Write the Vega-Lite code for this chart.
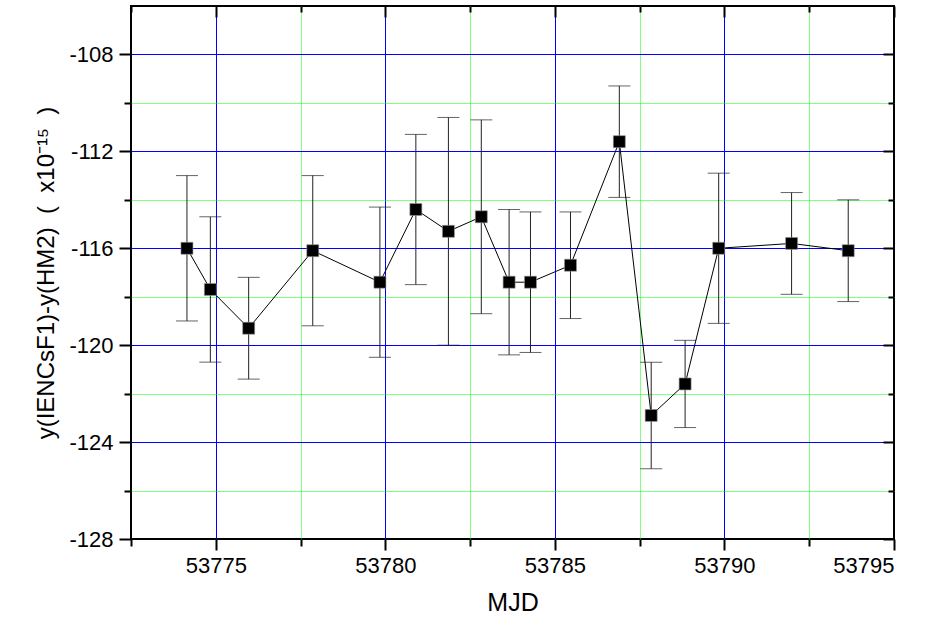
{
  "$schema": "https://vega.github.io/schema/vega-lite/v6.json",
  "width": 763,
  "height": 533,
  "autosize": {"type": "none"},
  "padding": {"left": 131, "top": 6, "right": 33, "bottom": 86},
  "background": "white",
  "config": {
    "font": "Liberation Sans",
    "view": {"stroke": "black", "strokeWidth": 2}
  },
  "data": {
    "values": [
      {"mjd": 53774.15, "y": -116.0, "lo": -119.0, "hi": -113.0},
      {"mjd": 53774.84, "y": -117.7, "lo": -120.7, "hi": -114.7},
      {"mjd": 53775.97, "y": -119.3, "lo": -121.4, "hi": -117.2},
      {"mjd": 53777.86, "y": -116.1, "lo": -119.2, "hi": -113.0},
      {"mjd": 53779.84, "y": -117.4, "lo": -120.5, "hi": -114.3},
      {"mjd": 53780.9, "y": -114.4, "lo": -117.5, "hi": -111.3},
      {"mjd": 53781.86, "y": -115.3, "lo": -120.0, "hi": -110.6},
      {"mjd": 53782.83, "y": -114.7, "lo": -118.7, "hi": -110.7},
      {"mjd": 53783.65, "y": -117.4, "lo": -120.4, "hi": -114.4},
      {"mjd": 53784.28, "y": -117.4, "lo": -120.3, "hi": -114.5},
      {"mjd": 53785.46, "y": -116.7, "lo": -118.9, "hi": -114.5},
      {"mjd": 53786.9, "y": -111.6, "lo": -113.9, "hi": -109.3},
      {"mjd": 53787.84, "y": -122.9, "lo": -125.1, "hi": -120.7},
      {"mjd": 53788.84, "y": -121.6, "lo": -123.4, "hi": -119.8},
      {"mjd": 53789.83, "y": -116.0, "lo": -119.1, "hi": -112.9},
      {"mjd": 53791.98, "y": -115.8, "lo": -117.9, "hi": -113.7},
      {"mjd": 53793.65, "y": -116.1, "lo": -118.2, "hi": -114.0}
    ]
  },
  "resolve": {"axis": {"x": "independent", "y": "independent"}},
  "layer": [
    {
      "mark": {"type": "rule", "color": "#222222", "strokeWidth": 1},
      "encoding": {
        "x": {
          "field": "mjd", "type": "quantitative",
          "scale": {"domain": [53772.5, 53795], "nice": false, "zero": false},
          "axis": {
            "title": "MJD",
            "titleFontSize": 25, "titleFontWeight": "normal", "titleColor": "black", "titlePadding": 14,
            "values": [53772.5, 53775, 53777.5, 53780, 53782.5, 53785, 53787.5, 53790, 53792.5, 53795],
            "format": "d",
            "labelExpr": "datum.value % 5 === 0 ? datum.label : ''",
            "labelFontSize": 22, "labelColor": "black", "labelPadding": 5,
            "domain": false,
            "tickColor": "black", "tickWidth": 2,
            "tickSize": {"condition": {"test": "datum.value % 5 === 0", "value": 11}, "value": 7},
            "grid": true,
            "gridColor": {"condition": {"test": "datum.value % 5 === 0", "value": "#0000ff"}, "value": "#00ff00"},
            "gridDash": {"condition": {"test": "datum.value % 5 === 0", "value": []}, "value": [1, 1]},
            "gridOpacity": {"condition": {"test": "datum.value === 53772.5 || datum.value === 53795", "value": 0}, "value": 1},
            "gridWidth": 1
          }
        },
        "y": {
          "field": "lo", "type": "quantitative",
          "scale": {"domain": [-128, -106], "nice": false, "zero": false},
          "axis": {
            "title": "y(IENCsF1)-y(HM2)\u00a0\u00a0(\u00a0\u00a0x10⁻¹⁵\u00a0\u00a0)",
            "titleFontSize": 24, "titleFontWeight": "normal", "titleColor": "black", "titlePadding": 10,
            "values": [-128, -126, -124, -122, -120, -118, -116, -114, -112, -110, -108],
            "labelExpr": "datum.value % 4 === 0 ? '' + datum.value : ''",
            "labelFontSize": 22, "labelColor": "black", "labelPadding": 6,
            "domain": false,
            "tickColor": "black", "tickWidth": 2,
            "tickSize": {"condition": {"test": "datum.value % 4 === 0", "value": 12}, "value": 7},
            "grid": true,
            "gridColor": {"condition": {"test": "datum.value % 4 === 0", "value": "#0000ff"}, "value": "#00ff00"},
            "gridDash": {"condition": {"test": "datum.value % 4 === 0", "value": []}, "value": [1, 1]},
            "gridOpacity": {"condition": {"test": "datum.value === -128", "value": 0}, "value": 1},
            "gridWidth": 1
          }
        },
        "y2": {"field": "hi"}
      }
    },
    {
      "mark": {"type": "tick", "color": "#222222", "orient": "horizontal", "size": 22, "thickness": 1},
      "encoding": {
        "x": {"field": "mjd", "type": "quantitative",
          "axis": {"orient": "top", "title": null, "labels": false, "domain": false, "grid": false,
            "values": [53772.5, 53775, 53777.5, 53780, 53782.5, 53785, 53787.5, 53790, 53792.5, 53795],
            "tickColor": "black", "tickWidth": 2,
            "tickSize": {"condition": {"test": "datum.value % 5 === 0", "value": -11}, "value": -6}}},
        "y": {"field": "lo", "type": "quantitative",
          "axis": {"orient": "right", "title": null, "labels": false, "domain": false, "grid": false,
            "values": [-128, -126, -124, -122, -120, -118, -116, -114, -112, -110, -108],
            "tickColor": "black", "tickWidth": 2,
            "tickSize": {"condition": {"test": "datum.value % 4 === 0", "value": -11}, "value": -6}}}
      }
    },
    {
      "mark": {"type": "tick", "color": "#222222", "orient": "horizontal", "size": 22, "thickness": 1},
      "encoding": {
        "x": {"field": "mjd", "type": "quantitative", "axis": null},
        "y": {"field": "hi", "type": "quantitative", "axis": null}
      }
    },
    {
      "mark": {"type": "line", "color": "black", "strokeWidth": 1},
      "encoding": {
        "x": {"field": "mjd", "type": "quantitative", "axis": null},
        "y": {"field": "y", "type": "quantitative", "axis": null}
      }
    },
    {
      "mark": {"type": "point", "shape": "square", "filled": true, "color": "black", "size": 144, "opacity": 1, "stroke": "#999999", "strokeWidth": 0.6},
      "encoding": {
        "x": {"field": "mjd", "type": "quantitative", "axis": null},
        "y": {"field": "y", "type": "quantitative", "axis": null}
      }
    }
  ]
}
